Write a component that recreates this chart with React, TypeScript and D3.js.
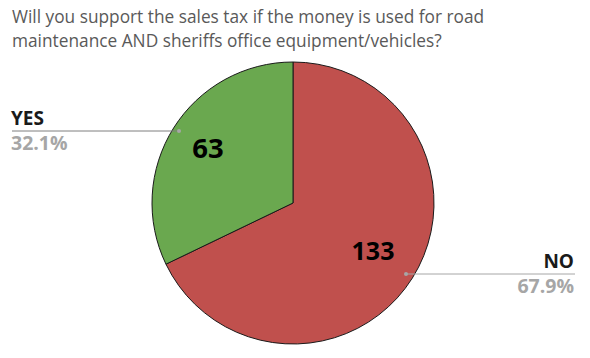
import React from "react";
import * as d3 from "d3";

const categories = ["NO", "YES"];
const counts = [133, 63];
const percentLabels = ["67.9%", "32.1%"];
const colors = ["#C0504D", "#6AA84F"];
const titleLines = [
  "Will you support the sales tax if the money is used for road",
  "maintenance AND sheriffs office equipment/vehicles?",
];

const W = 590;
const H = 358;
const cx = 293;
const cy = 203;
const R = 141;

export default function App() {
  const pie = d3.pie<number>().sort(null).value((d) => d);
  const arcs = pie(counts);
  const arcGen = d3.arc<d3.PieArcDatum<number>>().innerRadius(0).outerRadius(R);
  const font = "'Open Sans', sans-serif";

  return (
    <svg
      width={W}
      height={H}
      style={{ position: "absolute", left: 0, top: 0, background: "#fff" }}
    >
      {titleLines.map((t, i) => (
        <text
          key={i}
          x={12}
          y={22.5 + i * 24}
          fontFamily={font}
          fontSize={17.3}
          fill="#595959"
        >
          {t}
        </text>
      ))}
      <g transform={`translate(${cx},${cy})`}>
        {arcs.map((a, i) => (
          <path
            key={i}
            d={arcGen(a) || ""}
            fill={colors[i]}
            stroke="#1a1a1a"
            strokeWidth={1}
          />
        ))}
      </g>
      <text x={373} y={260} textAnchor="middle" fontFamily={font} fontWeight="bold" fontSize={25} fill="#000">
        {counts[0]}
      </text>
      <text x={208} y={158} textAnchor="middle" fontFamily={font} fontWeight="bold" fontSize={27.5} fill="#000">
        {counts[1]}
      </text>
      {/* YES outside label */}
      <line x1={12} x2={178} y1={131} y2={131} stroke="#7f7f7f" strokeWidth={1} />
      <circle cx={179} cy={131} r={2} fill="#a6a6a6" />
      <text x={11} y={125} fontFamily={font} fontWeight="bold" fontSize={19} fill="#1a1a1a">
        {categories[1]}
      </text>
      <text x={11} y={150} fontFamily={font} fontWeight="bold" fontSize={19.5} fill="#a6a6a6">
        {percentLabels[1]}
      </text>
      {/* NO outside label */}
      <line x1={405} x2={575} y1={274} y2={274} stroke="#a6a6a6" strokeWidth={1} />
      <circle cx={406} cy={274} r={2} fill="#a6a6a6" />
      <text x={574} y={268} textAnchor="end" fontFamily={font} fontWeight="bold" fontSize={19} fill="#1a1a1a">
        {categories[0]}
      </text>
      <text x={574} y={293} textAnchor="end" fontFamily={font} fontWeight="bold" fontSize={19.5} fill="#a6a6a6">
        {percentLabels[0]}
      </text>
    </svg>
  );
}
